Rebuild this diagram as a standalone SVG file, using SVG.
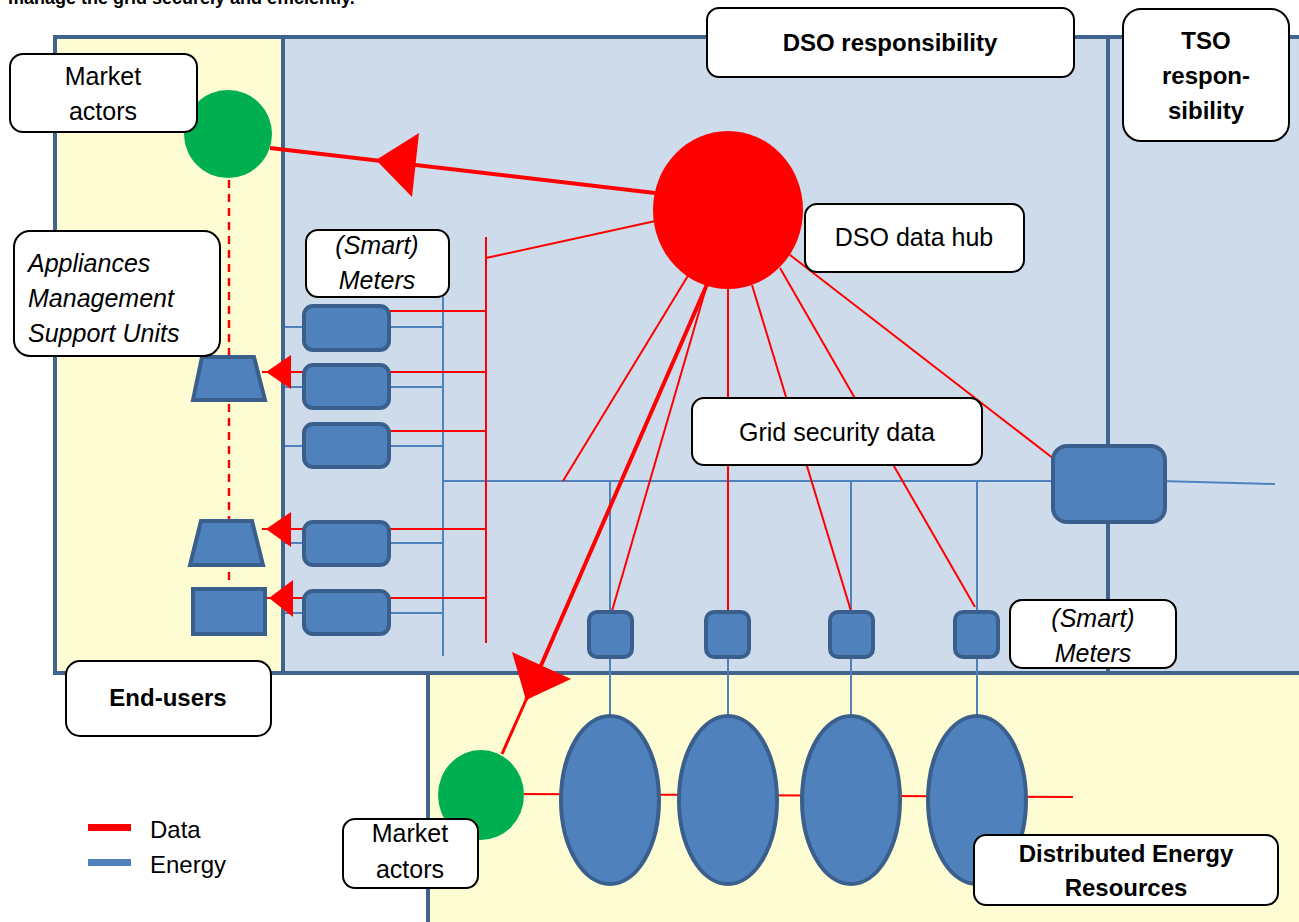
<svg xmlns="http://www.w3.org/2000/svg" width="1299" height="922" viewBox="0 0 1299 922">
<style>
text{font-family:"Liberation Sans",Arial,sans-serif;fill:#000}
.lbl{fill:#fff;stroke:#000;stroke-width:2}
.t{font-size:25px;text-anchor:middle}
.ti{font-size:25px;font-style:italic}
.tic{font-size:25px;font-style:italic;text-anchor:middle}
.tb{font-size:24px;font-weight:bold;text-anchor:middle}
.frame{fill:none;stroke:#41648F;stroke-width:4}
.dev{fill:#4F81BD;stroke:#3A5F8C;stroke-width:4}
.en{stroke:#4F81BD;stroke-width:2;fill:none}
.da{stroke:#FF0000;stroke-width:2;fill:none}
.dat{stroke:#FF0000;stroke-width:4;fill:none}
.ah{fill:#FF0000}
</style>

<g id="background">
<rect x="0" y="0" width="1299" height="922" fill="#fff"/>
<rect x="55" y="37" width="1250" height="636" fill="#CEDBEA"/>
<rect x="55" y="37" width="228" height="636" fill="#FEFCD3"/>
<rect x="428" y="673" width="880" height="260" fill="#FEFCD3"/>
<path class="frame" d="M1305,37 H55 V673 H1305 M283,37 V673 M1108,37 V673 M428,673 V930"/>
</g>

<text x="8" y="4" style="font-size:18px;font-weight:bold">manage the grid securely and efficiently.</text>

<g id="connectors">
<!-- energy lines -->
<path class="en" d="M285,327 H443 M285,387 H443 M285,446 H443 M285,543 H443 M285,613 H443"/>
<path class="en" d="M443,297 V656 M443,481 H1052 M1160,481 L1275,484"/>
<path class="en" d="M610,481 V611 M728,481 V611 M851,481 V611 M977,481 V611"/>
<path class="en" d="M610,658 V745 M728,658 V745 M851,658 V745 M977,658 V745"/>
<path d="M1108,420 V560" stroke="#41648F" stroke-width="4"/>
<!-- data lines -->
<path class="da" d="M390,311 H486 M262,372 H486 M390,431 H486 M262,529 H486 M266,598 H486"/>
<path class="da" d="M486,237 V643 M486,258 L660,220"/>
<path d="M229,180 V580" stroke="#FF0000" stroke-width="2.5" stroke-dasharray="8,6"/>
<path class="da" d="M728,210 L563,481 M706,288 L612,611 M728,285 V611 M752,285 L851,611 M780,268 L975,607 M790,255 L1054,459"/>
<path class="dat" d="M655,193 L270,148"/>
<path class="dat" d="M708,282 L526,700"/>
<path d="M526,700 L502,754" stroke="#FF0000" stroke-width="3"/>
<path class="da" d="M524,794 L1073,797"/>
<!-- arrowheads -->
<polygon class="ah" points="376,160 419,133 412,197"/>
<polygon class="ah" points="526,700 512,652 571,679"/>
<polygon class="ah" points="266,372 291,355 291,389"/>
<polygon class="ah" points="266,529 291,512 291,547"/>
<polygon class="ah" points="269,598 293,580 293,617"/>
</g>

<g id="market-actors-top"><circle cx="228" cy="134" r="44" fill="#00B050"/></g>
<g id="dso-hub"><ellipse cx="728" cy="210" rx="75" ry="79" fill="#FF0000"/></g>
<g id="market-actors-bottom"><ellipse cx="481" cy="795" rx="43" ry="45" fill="#00B050"/></g>

<g id="smart-meters-left">
<rect class="dev" x="304" y="306" width="85" height="44" rx="9"/>
<rect class="dev" x="304" y="365" width="85" height="43" rx="9"/>
<rect class="dev" x="304" y="424" width="85" height="43" rx="9"/>
<rect class="dev" x="304" y="522" width="85" height="43" rx="9"/>
<rect class="dev" x="304" y="591" width="85" height="43" rx="9"/>
</g>

<g id="appliances">
<polygon class="dev" points="202,357 254,357 265,400 193,400"/>
<polygon class="dev" points="201,521 252,521 263,565 190,565"/>
<rect class="dev" x="193" y="589" width="72" height="45"/>
</g>

<g id="smart-meters-der">
<rect class="dev" x="589" y="612" width="43" height="45" rx="8"/>
<rect class="dev" x="706" y="612" width="43" height="45" rx="8"/>
<rect class="dev" x="830" y="612" width="43" height="45" rx="8"/>
<rect class="dev" x="955" y="612" width="43" height="45" rx="8"/>
</g>

<g id="tso-meter"><rect class="dev" x="1053" y="446" width="112" height="76" rx="14"/></g>

<g id="der">
<ellipse class="dev" cx="610" cy="800" rx="49" ry="84"/>
<ellipse class="dev" cx="728" cy="800" rx="49" ry="84"/>
<ellipse class="dev" cx="851" cy="800" rx="49" ry="84"/>
<ellipse class="dev" cx="977" cy="800" rx="49" ry="84"/>
</g>

<g id="label-market-actors-top">
<rect class="lbl" x="10" y="54" width="187" height="78" rx="13"/>
<text class="t" x="103" y="85">Market</text>
<text class="t" x="103" y="120">actors</text>
</g>
<g id="label-asmu">
<rect class="lbl" x="14" y="231" width="206" height="125" rx="16"/>
<text class="ti" x="28" y="272">Appliances</text>
<text class="ti" x="28" y="307">Management</text>
<text class="ti" x="28" y="342">Support Units</text>
</g>
<g id="label-smart-meters-left">
<rect class="lbl" x="306" y="230" width="143" height="67" rx="12"/>
<text class="tic" x="377" y="254">(Smart)</text>
<text class="tic" x="377" y="289">Meters</text>
</g>
<g id="label-dso-resp">
<rect class="lbl" x="707" y="8" width="367" height="69" rx="12"/>
<text class="tb" x="890" y="51">DSO responsibility</text>
</g>
<g id="label-tso-resp">
<rect class="lbl" x="1123" y="9" width="166" height="132" rx="18"/>
<text class="tb" x="1206" y="49">TSO</text>
<text class="tb" x="1206" y="84">respon-</text>
<text class="tb" x="1206" y="119">sibility</text>
</g>
<g id="label-dso-hub">
<rect class="lbl" x="805" y="204" width="219" height="68" rx="12"/>
<text class="t" x="914" y="246">DSO data hub</text>
</g>
<g id="label-grid-security">
<rect class="lbl" x="692" y="398" width="290" height="67" rx="12"/>
<text class="t" x="837" y="441">Grid security data</text>
</g>
<g id="label-smart-meters-right">
<rect class="lbl" x="1010" y="600" width="166" height="68" rx="12"/>
<text class="tic" x="1093" y="627">(Smart)</text>
<text class="tic" x="1093" y="662">Meters</text>
</g>
<g id="label-end-users">
<rect class="lbl" x="66" y="661" width="205" height="75" rx="14"/>
<text class="tb" x="168" y="706">End-users</text>
</g>
<g id="label-market-actors-bottom">
<rect class="lbl" x="343" y="819" width="135" height="69" rx="12"/>
<text class="t" x="410" y="842">Market</text>
<text class="t" x="410" y="878">actors</text>
</g>
<g id="label-der">
<rect class="lbl" x="974" y="835" width="304" height="70" rx="12"/>
<text class="tb" x="1126" y="862">Distributed Energy</text>
<text class="tb" x="1126" y="896">Resources</text>
</g>

<g id="legend">
<rect x="88" y="824" width="43" height="7" fill="#FF0000"/>
<rect x="88" y="859" width="43" height="7" fill="#4F81BD"/>
<text x="150" y="838" style="font-size:24px">Data</text>
<text x="150" y="873" style="font-size:24px">Energy</text>
</g>
</svg>
